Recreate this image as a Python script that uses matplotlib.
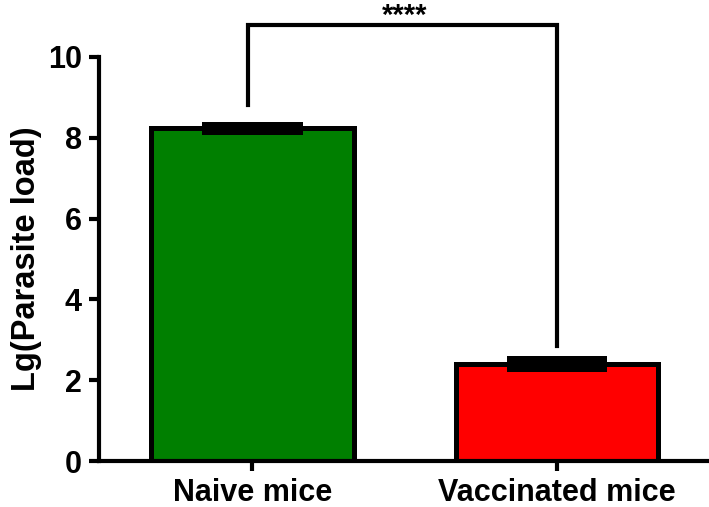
import numpy as np
import matplotlib
matplotlib.use("Agg")
import matplotlib.pyplot as plt

groups = ["Naive mice", "Vaccinated mice"]
means = [8.24, 2.40]
errors = [0.16, 0.2]
barColors = ["#007f00", "#ff0000"]
bracketLeftStart = 8.8
bracketRightStart = 2.85
bracketTop = 10.8
signifText = "****"

plt.rcParams["font.family"] = ["Liberation Sans", "DejaVu Sans"]
plt.rcParams["font.weight"] = "bold"

fig = plt.figure(figsize=(7.09, 5.07), dpi=100)
ax = fig.add_axes([0.139, 0.0907, 0.861, 0.7969])

x = np.arange(len(groups))
ax.bar(x, means, width=0.665, color=barColors, edgecolor="black", linewidth=3.6, zorder=2)
# error bars drawn as solid black blocks (GraphPad style)
ax.bar(x, [2 * e for e in errors], bottom=[m - e for m, e in zip(means, errors)],
       width=0.33, color="black", linewidth=0, zorder=3)

# significance bracket
ax.plot([x[0] - 0.015, x[0] - 0.015, x[1], x[1]],
        [bracketLeftStart, bracketTop, bracketTop, bracketRightStart],
        color="black", linewidth=3, clip_on=False, solid_joinstyle="miter", zorder=4)
ax.text((x[0] + x[1]) / 2, bracketTop + 0.02, signifText, ha="center", va="baseline",
        fontsize=21, fontweight="bold", clip_on=False)

ax.set_xlim(-0.505, 1.5)
ax.set_ylim(0, 10)
ax.set_yticks([0, 2, 4, 6, 8, 10])
ax.set_xticks(x)
ax.set_xticklabels(groups)
ax.set_ylabel("Lg(Parasite load)", fontsize=23.5, fontweight="bold", labelpad=4)

for side in ["top", "right"]:
    ax.spines[side].set_visible(False)
for side in ["left", "bottom"]:
    ax.spines[side].set_linewidth(3)
ax.tick_params(axis="both", width=3, length=7, labelsize=22, pad=5)
for lbl in ax.get_xticklabels() + ax.get_yticklabels():
    lbl.set_fontweight("bold")

fig.savefig("out.png", dpi=100)
